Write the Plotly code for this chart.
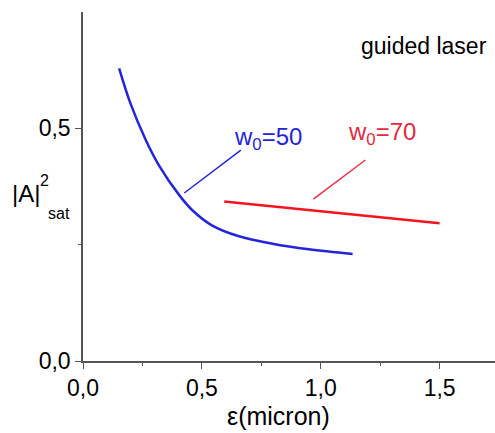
import plotly.graph_objects as go

# Data
blue_x = [0.152, 0.20, 0.264, 0.32, 0.404, 0.46, 0.544, 0.656, 0.797, 0.95, 1.134]
blue_y = [0.629, 0.553, 0.475, 0.420, 0.357, 0.324, 0.291, 0.268, 0.252, 0.240, 0.230]
red_x = [0.594, 1.5]
red_y = [0.343, 0.296]

x_ticks = [0.0, 0.5, 1.0, 1.5]
y_ticks = [0.0, 0.5]

BLUE = "#2424d8"
RED = "#f5141e"
FONT = "Liberation Sans, Arial, sans-serif"

fig = go.Figure()
fig.add_trace(go.Scatter(x=blue_x, y=blue_y, mode="lines", line=dict(color=BLUE, width=2.5, shape="spline", smoothing=1.0),
                         showlegend=False, hoverinfo="skip"))
fig.add_trace(go.Scatter(x=red_x, y=red_y, mode="lines", line=dict(color=RED, width=2.5),
                         showlegend=False, hoverinfo="skip"))

# leader lines
fig.add_shape(type="line", x0=0.426, y0=0.361, x1=0.664, y1=0.453, line=dict(color=BLUE, width=1.5))
fig.add_shape(type="line", x0=0.969, y0=0.348, x1=1.188, y1=0.432, line=dict(color="#e8304a", width=1.5))

fig.add_annotation(x=0.628, y=0.478, xref="x", yref="y", text="w<sub>0</sub>=50", showarrow=False,
                   xanchor="left", yanchor="middle", font=dict(family=FONT, size=24, color=BLUE))
fig.add_annotation(x=1.107, y=0.488, xref="x", yref="y", text="w<sub>0</sub>=70", showarrow=False,
                   xanchor="left", yanchor="middle", font=dict(family=FONT, size=24, color="#e42a40"))
fig.add_annotation(x=0.828, y=0.903, xref="paper", yref="paper", text="guided laser", showarrow=False,
                   xanchor="center", yanchor="middle", font=dict(family=FONT, size=23, color="black"))

# y label pieces
fig.add_annotation(x=-0.138, y=0.481, xref="paper", yref="paper", text="|A|", showarrow=False,
                   xanchor="center", yanchor="middle", font=dict(family=FONT, size=24, color="black"))
fig.add_annotation(x=-0.094, y=0.516, xref="paper", yref="paper", text="2", showarrow=False,
                   xanchor="center", yanchor="middle", font=dict(family=FONT, size=16, color="black"))
fig.add_annotation(x=-0.058, y=0.424, xref="paper", yref="paper", text="sat", showarrow=False,
                   xanchor="center", yanchor="middle", font=dict(family=FONT, size=16, color="black"))
# x label
fig.add_annotation(x=0.475, y=-0.158, xref="paper", yref="paper", text="ε(micron)", showarrow=False,
                   xanchor="center", yanchor="middle", font=dict(family=FONT, size=25, color="black"))

axis_common = dict(showgrid=False, zeroline=False, showline=True, linecolor="#555555", linewidth=1.5,
                   ticks="outside", ticklen=6, tickwidth=1.2, tickcolor="#555555", tickformat=".1f",
                   tickfont=dict(family=FONT, size=23, color="black"))

fig.update_xaxes(range=[0, 1.733], tickvals=x_ticks, ticklabelstandoff=0,
                 minor=dict(tickvals=[0.25, 0.75, 1.25], ticks="outside", ticklen=3, tickcolor="#555555"),
                 **axis_common)
fig.update_yaxes(range=[0, 0.75], tickvals=y_ticks,
                 minor=dict(tickvals=[0.25], ticks="outside", ticklen=3, tickcolor="#555555"),
                 **axis_common)

fig.update_layout(width=495, height=433, margin=dict(l=83, r=0, t=12, b=72),
                  paper_bgcolor="white", plot_bgcolor="white", separators=", ",
                  font=dict(family=FONT))

fig.write_html("out.html")
